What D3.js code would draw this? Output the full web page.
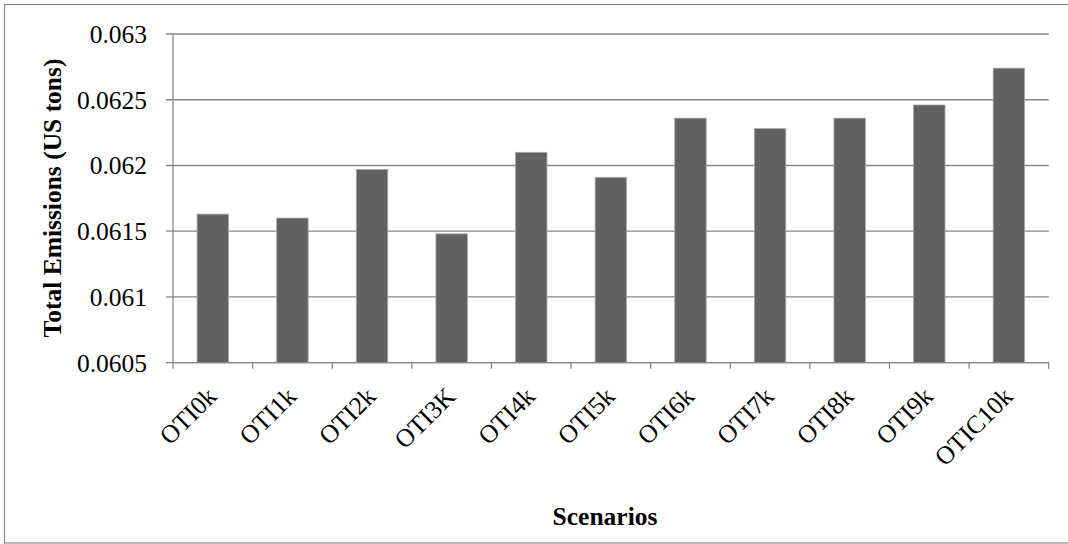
<!DOCTYPE html>
<html>
<head>
<meta charset="utf-8">
<script src="https://cdn.jsdelivr.net/npm/d3@7"></script>
<style>
  html, body { margin: 0; padding: 0; background: #fff; }
  svg { display: block; }
</style>
</head>
<body>
<svg id="chart" width="1068" height="544"></svg>
<script>
// Scenario names along the x axis
const categories = ["OTI0k", "OTI1k", "OTI2k", "OTI3K", "OTI4k", "OTI5k",
                    "OTI6k", "OTI7k", "OTI8k", "OTI9k", "OTIC10k"];
// Total emissions per scenario (US tons)
const emissions = [0.06163, 0.06160, 0.06197, 0.06148, 0.06210, 0.06191,
                   0.06236, 0.06228, 0.06236, 0.06246, 0.06274];
// Value axis ticks and their printed labels
const yTicks = [0.0605, 0.061, 0.0615, 0.062, 0.0625, 0.063];
const yTickLabels = ["0.0605", "0.061", "0.0615", "0.062", "0.0625", "0.063"];

const svg = d3.select("#chart");
const plotLeft = 173, plotRight = 1048.7, plotTop = 34, plotBottom = 362.7;
const gridColor = "#878787";
const serif = "'Liberation Serif', 'Times New Roman', serif";

// Outer chart frame
svg.append("rect")
  .attr("x", 4.5).attr("y", 4.5)
  .attr("width", 1080).attr("height", 538.5)
  .attr("fill", "none").attr("stroke", "#8a8a8a").attr("stroke-width", 1.2);

const y = d3.scaleLinear().domain([0.0605, 0.063]).range([plotBottom, plotTop]);
const x = d3.scaleBand().domain(categories).range([plotLeft, plotRight])
  .paddingInner(0.605).paddingOuter(0.3025);
const xSlots = d3.scaleBand().domain(categories).range([plotLeft, plotRight]).padding(0);

// Horizontal gridlines with outward tick stubs
svg.append("g").selectAll("line").data(yTicks).join("line")
  .attr("x1", plotLeft - 7).attr("x2", plotRight)
  .attr("y1", d => y(d)).attr("y2", d => y(d))
  .attr("stroke", gridColor).attr("stroke-width", 1.3);

// Y tick labels
svg.append("g").selectAll("text").data(yTicks).join("text")
  .attr("x", 147).attr("y", d => y(d))
  .attr("dy", "0.35em")
  .attr("text-anchor", "end")
  .attr("font-family", serif)
  .attr("font-size", 25.5).attr("fill", "#000")
  .text((d, i) => yTickLabels[i]);

// Bars
svg.append("g").selectAll("rect").data(emissions).join("rect")
  .attr("x", (d, i) => x(categories[i]))
  .attr("width", x.bandwidth())
  .attr("y", d => y(d))
  .attr("height", d => y(0.0605) - y(d))
  .attr("fill", "#616161")
  .attr("stroke", "#a8a8a8").attr("stroke-width", 0.8);

// Axis lines
svg.append("line").attr("x1", plotLeft).attr("x2", plotLeft).attr("y1", plotTop).attr("y2", plotBottom)
  .attr("stroke", gridColor).attr("stroke-width", 1.3);
svg.append("line").attr("x1", plotLeft).attr("x2", plotRight).attr("y1", plotBottom).attr("y2", plotBottom)
  .attr("stroke", gridColor).attr("stroke-width", 1.3);

// Category boundary ticks on the x axis
const boundaries = categories.map(c => xSlots(c)).concat([plotRight]);
svg.append("g").selectAll("line").data(boundaries).join("line")
  .attr("x1", d => d).attr("x2", d => d)
  .attr("y1", plotBottom).attr("y2", plotBottom + 6)
  .attr("stroke", gridColor).attr("stroke-width", 1.3);

// Rotated category labels
svg.append("g").selectAll("text").data(categories).join("text")
  .attr("transform", c => `translate(${x(c) + x.bandwidth() / 2 - 1},${plotBottom + 29}) rotate(-45)`)
  .attr("dy", "0.35em")
  .attr("text-anchor", "end")
  .attr("font-family", serif)
  .attr("font-size", 25.5).attr("fill", "#000")
  .text(c => c);

// Axis titles
svg.append("text")
  .attr("x", 605).attr("y", 525)
  .attr("text-anchor", "middle")
  .attr("font-family", serif)
  .attr("font-weight", "bold").attr("font-size", 25.5)
  .text("Scenarios");

svg.append("text")
  .attr("transform", "translate(61,198) rotate(-90)")
  .attr("text-anchor", "middle")
  .attr("font-family", serif)
  .attr("font-weight", "bold").attr("font-size", 25.5)
  .text("Total Emissions (US tons)");
</script>
</body>
</html>
